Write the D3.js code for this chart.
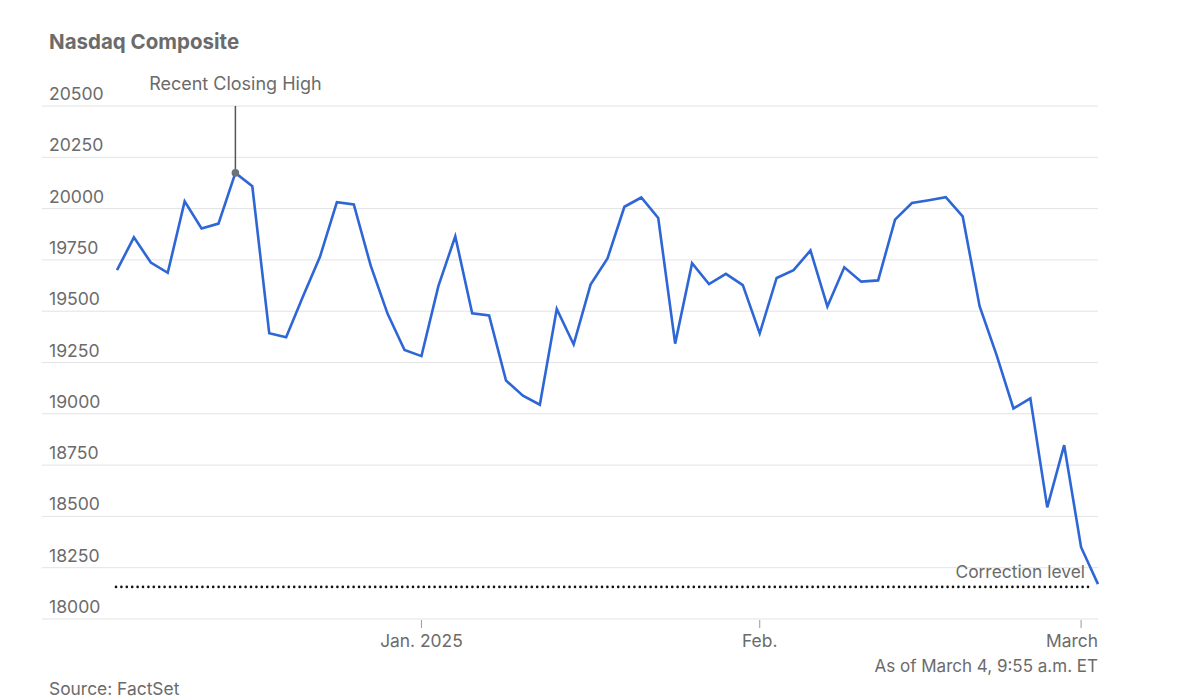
<!DOCTYPE html>
<html>
<head>
<meta charset="utf-8">
<script src="https://cdn.jsdelivr.net/npm/d3@7"></script>
<style>
  body { margin: 0; background: #fff; }
  svg text { font-family: Inter, "Noto Sans", sans-serif; fill: #6b6b6b; }
</style>
</head>
<body>
<svg id="chart" width="1200" height="700"></svg>
<script>
// Nasdaq Composite daily closes, Dec 5 2024 - Mar 4 2025 (last one intraday)
const dates = [
  "2024-12-05","2024-12-06","2024-12-09","2024-12-10","2024-12-11","2024-12-12","2024-12-13",
  "2024-12-16","2024-12-17","2024-12-18","2024-12-19","2024-12-20","2024-12-23","2024-12-24",
  "2024-12-26","2024-12-27","2024-12-30","2024-12-31",
  "2025-01-02","2025-01-03","2025-01-06","2025-01-07","2025-01-08","2025-01-10","2025-01-13",
  "2025-01-14","2025-01-15","2025-01-16","2025-01-17","2025-01-21","2025-01-22","2025-01-23",
  "2025-01-24","2025-01-27","2025-01-28","2025-01-29","2025-01-30","2025-01-31",
  "2025-02-03","2025-02-04","2025-02-05","2025-02-06","2025-02-07","2025-02-10","2025-02-11",
  "2025-02-12","2025-02-13","2025-02-14","2025-02-18","2025-02-19","2025-02-20","2025-02-21",
  "2025-02-24","2025-02-25","2025-02-26","2025-02-27","2025-02-28",
  "2025-03-03","2025-03-04"
];
const closes = [
  19700, 19860, 19737, 19687, 20035, 19903, 19927,
  20174, 20109, 19393, 19373, 19573, 19765, 20031,
  20020, 19722, 19487, 19311,
  19281, 19622, 19865, 19490, 19479, 19162, 19088,
  19044, 19511, 19338, 19630, 19757, 20009, 20054,
  19954, 19342, 19734, 19632, 19682, 19627,
  19392, 19662, 19700, 19796, 19523, 19714, 19644,
  19650, 19946, 20027, 20041, 20056, 19962, 19524,
  19287, 19026, 19075, 18544, 18847,
  18350, 18170
];
const yTicks = [18000, 18250, 18500, 18750, 19000, 19250, 19500, 19750, 20000, 20250, 20500];
const xTickDates = ["2025-01-02", "2025-02-03", "2025-03-03"];
const xTickLabels = ["Jan. 2025", "Feb.", "March"];
const highDate = "2024-12-16";
const highValue = 20174;
const correctionLevel = 18156.5;

const svg = d3.select("#chart");
const gridLeft = 42, plotLeft = 117, plotRight = 1098;

const x = d3.scalePoint().domain(dates).range([plotLeft, plotRight]);
const y = d3.scaleLinear().domain([18000, 20500]).range([619, 106]);

const data = dates.map((d, i) => ({date: d, value: closes[i]}));

// title
svg.append("text")
  .attr("x", 49).attr("y", 49)
  .attr("font-size", 20.5).attr("font-weight", 700)
  .text("Nasdaq Composite");

// gridlines and y labels
const yg = svg.append("g");
yg.selectAll("line").data(yTicks).join("line")
  .attr("x1", gridLeft).attr("x2", plotRight)
  .attr("y1", d => y(d)).attr("y2", d => y(d))
  .attr("stroke", "#e3e3e3").attr("stroke-width", 1);
yg.selectAll("text").data(yTicks).join("text")
  .attr("x", 49).attr("y", d => y(d) - 6)
  .attr("font-size", 17.6)
  .text(d => d);

// x ticks
const xg = svg.append("g");
xg.selectAll("line").data(xTickDates).join("line")
  .attr("x1", d => x(d)).attr("x2", d => x(d))
  .attr("y1", 620).attr("y2", 628)
  .attr("stroke", "#999").attr("stroke-width", 1);
xg.selectAll("text").data(xTickDates).join("text")
  .attr("x", (d, i) => i == xTickDates.length - 1 ? plotRight : x(d))
  .attr("y", 647)
  .attr("font-size", 17.4)
  .attr("text-anchor", (d, i) => i == xTickDates.length - 1 ? "end" : "middle")
  .text((d, i) => xTickLabels[i]);

// correction level
svg.append("line")
  .attr("x1", plotLeft - 1).attr("x2", plotRight - 5)
  .attr("y1", y(correctionLevel)).attr("y2", y(correctionLevel))
  .attr("stroke", "#111").attr("stroke-width", 2.6)
  .attr("stroke-linecap", "round").attr("stroke-dasharray", "0,5.4");
svg.append("text")
  .attr("x", 1085).attr("y", y(correctionLevel) - 9)
  .attr("font-size", 17.4).attr("text-anchor", "end")
  .text("Correction level");

// annotation for recent closing high
svg.append("line")
  .attr("x1", x(highDate)).attr("x2", x(highDate))
  .attr("y1", y(20500)).attr("y2", y(highValue))
  .attr("stroke", "#555").attr("stroke-width", 1.5);
svg.append("text")
  .attr("x", x(highDate)).attr("y", 90)
  .attr("font-size", 18).attr("text-anchor", "middle")
  .text("Recent Closing High");

// line
const line = d3.line()
  .x(d => x(d.date))
  .y(d => y(d.value));
svg.append("path")
  .datum(data)
  .attr("d", line)
  .attr("fill", "none")
  .attr("stroke", "#2e66d6")
  .attr("stroke-width", 2.6)
  .attr("stroke-linejoin", "miter");

svg.append("circle")
  .attr("cx", x(highDate)).attr("cy", y(highValue))
  .attr("r", 3.8).attr("fill", "#6e7378");

// notes
svg.append("text")
  .attr("x", plotRight).attr("y", 672)
  .attr("font-size", 17).attr("text-anchor", "end")
  .text("As of March 4, 9:55 a.m. ET");
svg.append("text")
  .attr("x", 49).attr("y", 695)
  .attr("font-size", 17.4)
  .text("Source: FactSet");
</script>
</body>
</html>
